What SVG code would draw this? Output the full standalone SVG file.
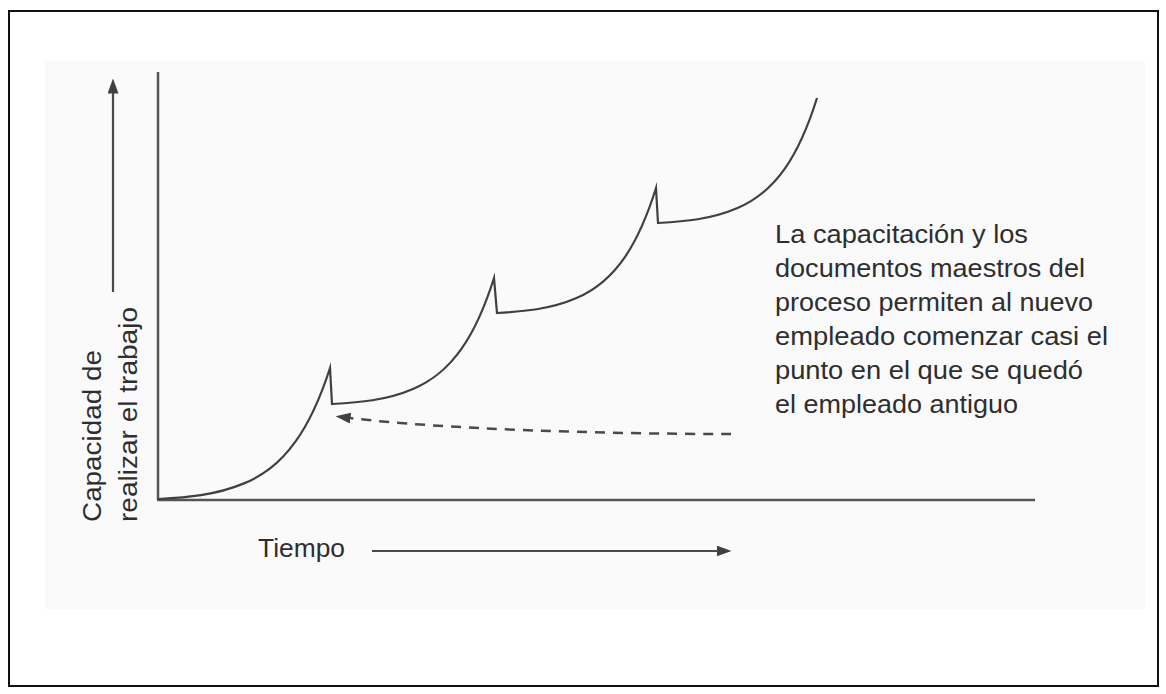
<svg xmlns="http://www.w3.org/2000/svg" width="1166" height="694" viewBox="0 0 1166 694">
  <style>
    .txt { font-family: "Liberation Sans", Arial, sans-serif; font-size: 25px; fill: #2e2e2e; }
    .axis { stroke: #555; stroke-width: 2.5; fill: none; }
    .arrow { stroke: #4a4a4a; stroke-width: 2.2; fill: none; }
    .curve { stroke: #404040; stroke-width: 2.2; fill: none; stroke-linejoin: miter; stroke-miterlimit: 20; }
    .dash { stroke: #4a4a4a; stroke-width: 2.5; fill: none; stroke-dasharray: 10 8; }
  </style>
  <defs>
    <marker id="ah" viewBox="0 0 15 11" refX="0.5" refY="5.5" markerWidth="15" markerHeight="11" markerUnits="userSpaceOnUse" orient="auto">
      <path d="M0,0 L15,5.5 L0,11 z" fill="#404040" stroke="none"/>
    </marker>
  </defs>
  <rect x="0" y="0" width="1166" height="694" fill="#ffffff"/>
  <rect x="9" y="11" width="1149" height="675" fill="none" stroke="#111" stroke-width="2"/>
  <rect x="45" y="61" width="1100" height="548" fill="#fafafa"/>

  <g id="connectors">
    <line class="axis" x1="158" y1="72" x2="158" y2="500"/>
    <line class="axis" x1="157" y1="500" x2="1035" y2="500"/>
    <line class="arrow" x1="113" y1="292" x2="113" y2="93" marker-end="url(#ah)"/>
    <line class="arrow" x1="372" y1="551" x2="717" y2="551" marker-end="url(#ah)"/>
    <path class="dash" d="M731,434 C600,434 440,429 350,418" marker-end="url(#ah)"/>
    <path id="capacity-curve" class="curve" d="M158,499 c28.67,-1.63 57.33,-3.57 86,-15.62 c17.2,-7.22 34.4,-17.91 51.6,-41.9 c11.47,-15.99 22.93,-37.92 34.4,-73.49 L332,404 c27,-1.57 54,-3.44 81,-15.02 c16.2,-6.95 32.4,-17.23 48.6,-40.3 c10.8,-15.38 21.6,-36.47 32.4,-70.69 L497,313 c26.5,-1.56 53,-3.41 79.5,-14.9 c15.9,-6.89 31.8,-17.09 47.7,-39.98 c10.6,-15.26 21.2,-36.18 31.8,-70.13 L658,223 c26.5,-1.56 53,-3.41 79.5,-14.9 c15.9,-6.89 31.8,-17.09 47.7,-39.98 c10.6,-15.26 21.2,-36.18 31.8,-70.13"/>
  </g>

  <g id="y-label">
    <text class="txt" transform="translate(101,522) rotate(-90)" textLength="172" lengthAdjust="spacingAndGlyphs">Capacidad de</text>
    <text class="txt" transform="translate(137,522) rotate(-90)" textLength="215" lengthAdjust="spacingAndGlyphs">realizar el trabajo</text>
  </g>

  <g id="x-label">
    <text class="txt" x="258" y="557" textLength="87" lengthAdjust="spacingAndGlyphs">Tiempo</text>
  </g>

  <g id="annotation">
    <text class="txt" x="775" y="243" textLength="253" lengthAdjust="spacingAndGlyphs">La capacitación y los</text>
    <text class="txt" x="775" y="277" textLength="310" lengthAdjust="spacingAndGlyphs">documentos maestros del</text>
    <text class="txt" x="775" y="311" textLength="318" lengthAdjust="spacingAndGlyphs">proceso permiten al nuevo</text>
    <text class="txt" x="775" y="345" textLength="333" lengthAdjust="spacingAndGlyphs">empleado comenzar casi el</text>
    <text class="txt" x="775" y="379" textLength="308" lengthAdjust="spacingAndGlyphs">punto en el que se quedó</text>
    <text class="txt" x="775" y="413" textLength="243" lengthAdjust="spacingAndGlyphs">el empleado antiguo</text>
  </g>
</svg>
